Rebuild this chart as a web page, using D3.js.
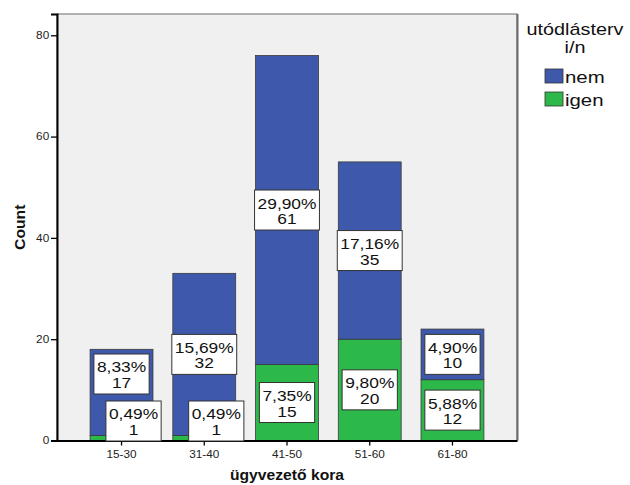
<!DOCTYPE html>
<html>
<head>
<meta charset="utf-8">
<script src="https://cdn.jsdelivr.net/npm/d3@7"></script>
<style>
  html, body { margin: 0; padding: 0; background: #ffffff; }
  svg { display: block; }
</style>
</head>
<body>
<div id="chart"></div>
<script>
// Age groups of company managers, split by whether a succession plan exists
const categories = ["15-30", "31-40", "41-50", "51-60", "61-80"];
const nemCounts  = [17, 32, 61, 35, 10];   // no succession plan
const igenCounts = [1, 1, 15, 20, 12];     // has succession plan
const yTicks = [0, 20, 40, 60, 80];
const seriesNames = ["nem", "igen"];
const legendTitle = ["utódlásterv", "i/n"];
const xTitle = "ügyvezető kora";
const yTitle = "Count";

const W = 630, H = 485;
const plot = { left: 57, right: 517, top: 14, bottom: 440.5 };
const colors = { nem: "#3e58ac", igen: "#2db84a" };
const FONT = "'Liberation Sans', Arial, sans-serif";
const STRETCH = 1.12;   // slightly widened glyphs

const total = d3.sum(nemCounts) + d3.sum(igenCounts);
const pct = v => (v / total * 100).toFixed(2).replace(".", ",") + "%";

const rows = categories.map((c, i) => ({ cat: c, igen: igenCounts[i], nem: nemCounts[i] }));
const stacked = d3.stack().keys(["igen", "nem"])(rows);

const svg = d3.select("#chart").append("svg")
  .attr("width", W).attr("height", H);

const x = d3.scaleBand()
  .domain(categories)
  .range([plot.left, plot.right])
  .paddingInner(0.24)
  .paddingOuter(0.4);

const y = d3.scaleLinear()
  .domain([0, 84.2])
  .range([plot.bottom, plot.top]);

// plot background and frame
svg.append("rect")
  .attr("x", plot.left).attr("y", plot.top)
  .attr("width", plot.right - plot.left)
  .attr("height", plot.bottom - plot.top)
  .attr("fill", "#f0f0f0")
  .attr("stroke", "#6b6b6b").attr("stroke-width", 1);
svg.append("line")
  .attr("x1", plot.right + 0.5).attr("x2", plot.right + 0.5)
  .attr("y1", plot.top).attr("y2", plot.bottom)
  .attr("stroke", "#6b6b6b").attr("stroke-width", 2);

// stacked bars
svg.append("g").selectAll("g")
  .data(stacked)
  .join("g")
  .attr("fill", d => colors[d.key])
  .selectAll("rect")
  .data(d => d)
  .join("rect")
  .attr("x", d => x(d.data.cat))
  .attr("width", x.bandwidth())
  .attr("y", d => y(d[1]))
  .attr("height", d => y(d[0]) - y(d[1]))
  .attr("stroke", "#3a3a3a")
  .attr("stroke-width", 0.8);

// y axis
const yAxis = svg.append("g")
  .attr("transform", `translate(${plot.left},0)`)
  .call(d3.axisLeft(y).tickValues(yTicks).tickSize(6).tickPadding(1).tickFormat(d3.format("d")));
yAxis.select(".domain").attr("stroke", "#000").attr("stroke-width", 2);
yAxis.selectAll(".tick line").attr("stroke", "#000").attr("stroke-width", 1.3);
yAxis.selectAll(".tick text")
  .attr("font-family", FONT).attr("font-size", "10.5px").attr("fill", "#222")
  .attr("transform", `scale(${STRETCH},1)`);

// x axis
const xAxis = svg.append("g")
  .attr("transform", `translate(0,${plot.bottom})`)
  .call(d3.axisBottom(x).tickSize(5).tickPadding(5).tickSizeOuter(0));
xAxis.select(".domain").attr("stroke", "#000").attr("stroke-width", 2);
xAxis.selectAll(".tick line").attr("stroke", "#000").attr("stroke-width", 1.3);
xAxis.selectAll(".tick text")
  .attr("font-family", FONT).attr("font-size", "10.5px").attr("fill", "#222")
  .attr("transform", `scale(${STRETCH},1)`);

// axis titles
svg.append("text")
  .attr("transform", `translate(${(plot.left + plot.right) / 2},480) scale(${STRETCH},1)`)
  .attr("text-anchor", "middle")
  .attr("font-family", FONT).attr("font-weight", "bold").attr("font-size", "14px")
  .attr("fill", "#111")
  .text(xTitle);
svg.append("text")
  .attr("transform", `translate(25,${(plot.top + plot.bottom) / 2}) rotate(-90) scale(${STRETCH},1)`)
  .attr("text-anchor", "middle")
  .attr("font-family", FONT).attr("font-weight", "bold").attr("font-size", "14px")
  .attr("fill", "#111")
  .text(yTitle);

// value labels: centred in each segment, kept above the axis and apart from each other
const boxH = 40, padX = 3, gap = 7;
const labelFont = "15.5px";
const labels = svg.append("g");
const measure = svg.append("text").attr("font-family", FONT).attr("font-size", labelFont);

rows.forEach(row => {
  let prevTop = null;
  stacked.forEach(series => {
    const seg = series.find(s => s.data.cat === row.cat);
    const count = row[series.key];
    const line1 = pct(count), line2 = String(count);
    measure.text(line1);
    const tw = measure.node().getComputedTextLength() * STRETCH;
    const bw = tw + padX * 2;
    let cy = (y(seg[0]) + y(seg[1])) / 2;
    let cx = x(row.cat) + x.bandwidth() / 2;
    let top = cy - boxH / 2;
    if (top + boxH > plot.bottom + 0.5) {
      top = plot.bottom + 0.5 - boxH;
      cx += 12;
    }
    if (prevTop !== null && top + boxH > prevTop - gap) {
      top = prevTop - gap - boxH;
    }
    prevTop = top;
    const g = labels.append("g");
    g.append("rect")
      .attr("x", cx - bw / 2).attr("y", top)
      .attr("width", bw).attr("height", boxH)
      .attr("fill", "#ffffff").attr("stroke", "#333").attr("stroke-width", 1);
    const t = g.append("text")
      .attr("transform", `translate(${cx},${top}) scale(${STRETCH},1)`)
      .attr("text-anchor", "middle")
      .attr("font-family", FONT).attr("font-size", labelFont).attr("fill", "#111");
    t.append("tspan").attr("x", 0).attr("y", 18.5).text(line1);
    t.append("tspan").attr("x", 0).attr("y", 34).text(line2);
  });
});
measure.remove();

// legend
const legend = svg.append("g");
legendTitle.forEach((t, i) => {
  legend.append("text")
    .attr("transform", `translate(575,${35 + i * 17.5}) scale(1.24,1)`)
    .attr("text-anchor", "middle")
    .attr("font-family", FONT).attr("font-size", "16px").attr("fill", "#111")
    .text(t);
});
seriesNames.forEach((name, i) => {
  const ly = 69 + i * 23;
  legend.append("rect")
    .attr("x", 545).attr("y", ly)
    .attr("width", 18).attr("height", 14)
    .attr("fill", colors[name]).attr("stroke", "#333").attr("stroke-width", 0.8);
  legend.append("text")
    .attr("transform", `translate(565,${ly + 14}) scale(1.2,1)`)
    .attr("font-family", FONT).attr("font-size", "17px").attr("fill", "#111")
    .text(name);
});
</script>
</body>
</html>
